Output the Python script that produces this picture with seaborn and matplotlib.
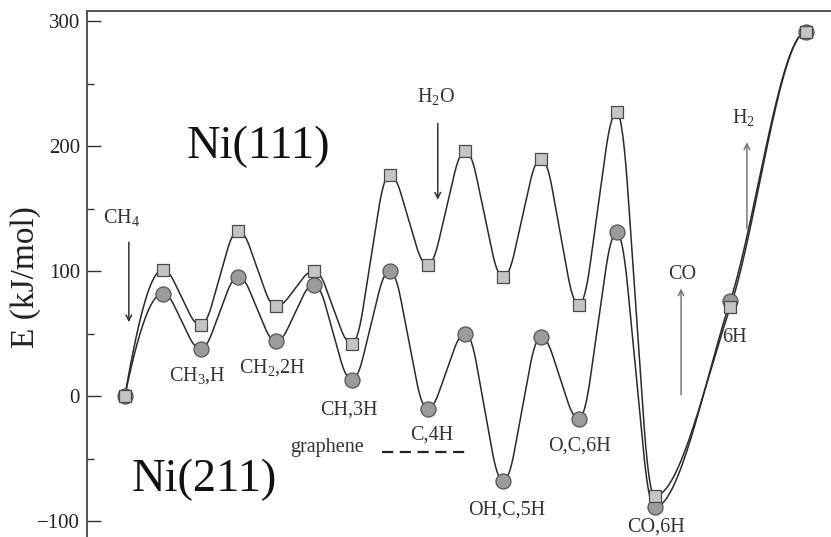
import numpy as np
import pandas as pd
import matplotlib
matplotlib.use("Agg")
import matplotlib.pyplot as plt
import seaborn as sns

# ---- data ----
steps = [0, 1, 2, 3, 4, 5, 6, 7, 8, 9, 10, 11, 12, 13, 14, 16, 18]
e_ni111 = [0, 101, 57, 132, 72, 100, 42, 177, 105, 196, 95, 190, 73, 227, -80, 71, 291]
e_ni211 = [0, 82, 38, 95, 44, 89, 13, 100, -10, 50, -68, 47, -18, 131, -89, 76, 291]
y_ticks = [-100, 0, 100, 200, 300]
state_labels = ["CH$_3$,H", "CH$_2$,2H", "CH,3H", "C,4H", "OH,C,5H", "O,C,6H", "CO,6H", "6H"]
graphene_level = -45

sns.set_style("ticks")
plt.rcParams["font.family"] = ["Liberation Serif", "DejaVu Serif"]
plt.rcParams["mathtext.fontset"] = "custom"
plt.rcParams["mathtext.rm"] = "Liberation Serif"
plt.rcParams["mathtext.it"] = "Liberation Serif:italic"


def ramp(t, a0, a1):
    """Smoothed ramp 0->1 with quadratic easing of width a0 at start, a1 at end."""
    v = 1.0 / (1.0 - a0 / 2.0 - a1 / 2.0)
    f = np.empty_like(t)
    for i, tt in enumerate(t):
        if a0 > 0 and tt < a0:
            f[i] = v * tt**2 / (2 * a0)
        elif a1 > 0 and tt > 1 - a1:
            f[i] = 1 - v * (1 - tt) ** 2 / (2 * a1)
        else:
            f[i] = v * (tt - a0 / 2.0)
    return f


def smooth(xs, ys, n=60, a=0.3):
    """Draw path through the nodes: straight runs with rounded turns."""
    xs = np.asarray(xs, float)
    ys = np.asarray(ys, float)
    h = np.diff(xs)
    d = np.diff(ys) / h
    N = len(xs)
    ext = np.zeros(N, bool)
    for k in range(1, N - 1):
        ext[k] = d[k - 1] * d[k] <= 0
    ext[-1] = True
    m = np.zeros(N)
    for k in range(1, N - 1):
        if not ext[k]:
            w1 = 2 * h[k] + h[k - 1]
            w2 = h[k] + 2 * h[k - 1]
            m[k] = (w1 + w2) / (w1 / d[k - 1] + w2 / d[k])
    m[0] = ((2 * h[0] + h[1]) * d[0] - h[0] * d[1]) / (h[0] + h[1])
    if abs(m[0]) > abs(3 * d[0]):
        m[0] = 3 * d[0]
    X, Y = [], []
    for k in range(N - 1):
        t = np.linspace(0, 1, n)
        if ext[k] and ext[k + 1]:
            f = ramp(t, a, a)
            yy = ys[k] + (ys[k + 1] - ys[k]) * f
        else:
            h00 = 2 * t**3 - 3 * t**2 + 1
            h10 = t**3 - 2 * t**2 + t
            h01 = -2 * t**3 + 3 * t**2
            h11 = t**3 - t**2
            yy = h00 * ys[k] + h10 * h[k] * m[k] + h01 * ys[k + 1] + h11 * h[k] * m[k + 1]
        X.append(xs[k] + t * h[k])
        Y.append(yy)
    return np.concatenate(X), np.concatenate(Y)


x1, y1 = smooth(steps, e_ni111)
x2, y2 = smooth(steps, e_ni211)
curves = pd.DataFrame({
    "x": np.concatenate([x2, x1]),
    "E": np.concatenate([y2, y1]),
    "surface": ["Ni(211)"] * len(x2) + ["Ni(111)"] * len(x1),
})
pts = pd.DataFrame({"x": steps * 2, "E": e_ni211 + e_ni111,
                    "surface": ["Ni(211)"] * len(steps) + ["Ni(111)"] * len(steps)})

W, H = 831, 537
fig = plt.figure(figsize=(W / 100, H / 100), dpi=100)
# axes extends past the right and bottom edges (reference is cropped)
left_px, right_px, top_px = 87, 845, 11
y_top, y_bot = 308, -130
px_per = 1.25
bot_px = 396 + (-y_bot) * px_per
ax = fig.add_axes([left_px / W, 1 - bot_px / H, (right_px - left_px) / W, (bot_px - top_px) / H])

sns.lineplot(data=curves, x="x", y="E", hue="surface", units="surface", estimator=None,
             sort=False, palette={"Ni(211)": "#2a2a2a", "Ni(111)": "#2a2a2a"},
             linewidth=1.1, legend=False, ax=ax)
sns.scatterplot(data=pts[pts.surface == "Ni(211)"], x="x", y="E", marker="o", s=15 ** 2 * 0.52,
                color="#9b9b9b", edgecolor="#555555", linewidth=0.9, zorder=3, ax=ax)
sns.scatterplot(data=pts[pts.surface == "Ni(111)"], x="x", y="E", marker="s", s=9.3 ** 2,
                color="#c4c4c4", edgecolor="#4a4a4a", linewidth=0.9, zorder=4, ax=ax)

ax.set_xlim(-1.0, (right_px - 125) / 37.83)
ax.set_ylim(y_bot, y_top)
ax.set_xticks([])
ax.set_yticks(y_ticks)
ax.set_yticks([-50, 50, 150, 250], minor=True)
ax.tick_params(axis="y", which="major", direction="in", length=10, width=1.0,
               labelsize=15, pad=5, colors="#333333", labelcolor="#222222")
ax.tick_params(axis="y", which="minor", direction="in", length=5, width=1.0, colors="#333333")
ax.set_xlabel("")
ax.set_ylabel("")
for s in ["left", "top"]:
    ax.spines[s].set_color("#555555")
    ax.spines[s].set_linewidth(1.4)
ax.spines["right"].set_visible(False)

fig.text(26 / W, 1 - 277 / H, "E (kJ/mol)", rotation=90, ha="center", va="center",
         fontsize=24, color="#222222")

ax.text(3.52, 199, "Ni(111)", fontsize=33.5, ha="center", va="center", color="#111111")
ax.text(2.09, -67, "Ni(211)", fontsize=33.5, ha="center", va="center", color="#111111")

lab_kw = dict(fontsize=14.5, color="#333333", ha="left", va="baseline")
label_pos = [(1.16, 12), (3.01, 19), (5.15, -14.5), (7.53, -35), (9.07, -95),
             (11.18, -44), (13.27, -108.5), (15.78, 43)]
for (lx, ly), txt in zip(label_pos, state_labels):
    ax.text(lx, ly, txt, **lab_kw)
ax.text(4.36, graphene_level, "graphene", **lab_kw)
ax.plot([6.8, 9.05], [graphene_level, graphene_level], color="#222222", lw=1.6,
        linestyle=(0, (5, 3)))

ax.text(-0.58, 138, "CH$_4$", **lab_kw)
ax.text(7.72, 235, "H$_2$O", **lab_kw)
ax.text(14.35, 93.6, "CO", **lab_kw)
ax.text(16.05, 218, "H$_2$", **lab_kw)

arrow_kw = dict(arrowstyle="->", lw=1.1, mutation_scale=10, shrinkA=0, shrinkB=0)
ax.annotate("", xy=(0.106, 59), xytext=(0.106, 123), arrowprops=dict(color="#333333", **arrow_kw))
ax.annotate("", xy=(8.27, 157), xytext=(8.27, 218), arrowprops=dict(color="#333333", **arrow_kw))
ax.annotate("", xy=(14.70, 86), xytext=(14.70, 1), arrowprops=dict(color="#777777", **arrow_kw))
ax.annotate("", xy=(16.44, 203), xytext=(16.44, 134), arrowprops=dict(color="#777777", **arrow_kw))

fig.savefig("out.png", dpi=100)
